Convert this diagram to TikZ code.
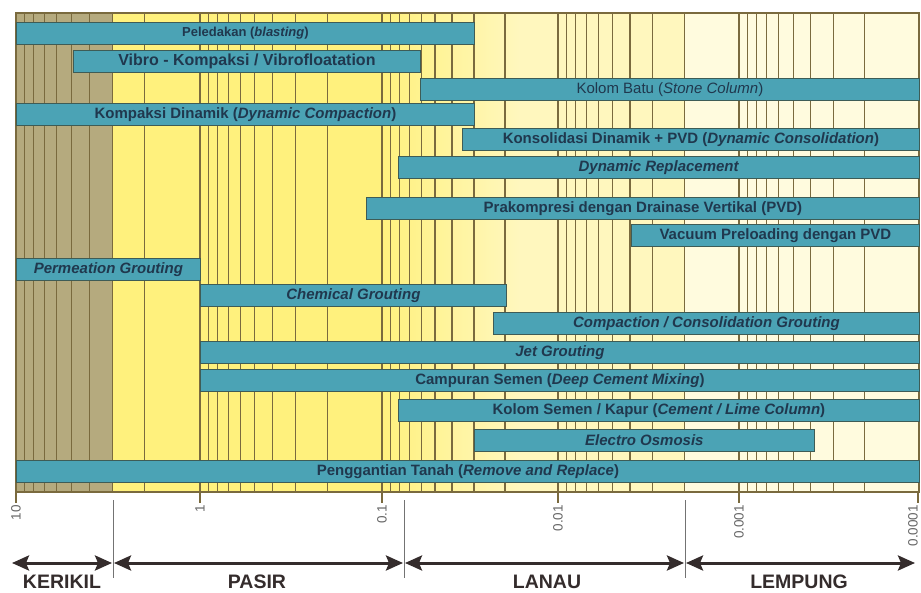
\documentclass[tikz,border=0pt]{standalone}
\usepackage{fontspec}
\setmainfont{Liberation Sans}
\usetikzlibrary{arrows.meta}
\definecolor{gravelfill}{RGB}{181,170,126}
\definecolor{sandfill}{RGB}{255,241,125}
\definecolor{siltfill}{RGB}{255,247,190}
\definecolor{clayfill}{RGB}{255,251,222}
\definecolor{gridbrown}{RGB}{122,106,62}
\definecolor{barfill}{RGB}{75,163,181}
\definecolor{barline}{RGB}{62,92,86}
\definecolor{bartext}{RGB}{32,56,78}
\definecolor{spanline}{RGB}{52,44,44}
\tikzset{
  logline/.style={draw=gridbrown, line width=1.1pt},
  bar/.style={draw=barline, fill=barfill, line width=0.8pt, minimum height=22pt,
    inner sep=0pt, anchor=north west, text=bartext,
    font=\bfseries\fontsize{15}{18}\selectfont},
  ticklabel/.style={rotate=90, anchor=east, inner sep=0pt, text=black!60,
    font=\fontsize{13.5}{16}\selectfont},
  divider/.style={draw=black!55, line width=0.8pt},
  span/.style={draw=spanline, line width=3pt,
    {Stealth[length=17pt,width=15pt,inset=3pt]}-{Stealth[length=17pt,width=15pt,inset=3pt]},
    shorten <=1pt, shorten >=1pt},
  soil/.style={anchor=base, inner sep=0pt, text=spanline,
    font=\bfseries\fontsize{19.5}{22}\selectfont},
}

\begin{document}
\begin{tikzpicture}[x=1pt, y=-1pt]
\useasboundingbox (0,0) rectangle (921,593);

% soil zones
\fill[gravelfill] (16,13) rectangle (113,492);
\fill[sandfill] (113,13) rectangle (381,492);
\shade[left color=sandfill, right color=siltfill] (380,13) rectangle (520,492);
\fill[siltfill] (519,13) rectangle (685,492);
\fill[clayfill] (685,13) rectangle (919,492);

% log grid
\foreach \a/\b in {16/200, 200/382, 382/558, 558/739, 739/919} {
  \draw[logline] (\a,13) -- ++(0,479);
  \foreach \n in {2,...,9}
    \draw[logline] ({\a+(\b-\a)*(1-log10(\n))},13) -- ++(0,479);
}
\draw[logline] (16,13) rectangle (919,492);

% methods
\node[bar, minimum width=458pt] (blast) at (16,22)
  {\fontsize{13}{16}\selectfont Peledakan (\textit{blasting})};
\node[bar, minimum width=347pt] (vibro) at (73,50)
  {\fontsize{16}{18}\selectfont Vibro - Kompaksi / Vibrofloatation};
\node[bar, minimum width=499pt] (stone) at (420,78)
  {\mdseries Kolom Batu (\textit{Stone Column})};
\node[bar, minimum width=458pt] (dyncomp) at (16,103)
  {Kompaksi Dinamik (\textit{Dynamic Compaction})};
\node[bar, minimum width=457pt] (dyncons) at (462,128)
  {Konsolidasi Dinamik + PVD (\textit{Dynamic Consolidation})};
\node[bar, minimum width=521pt] (dynrep) at (398,156)
  {\textit{Dynamic Replacement}};
\node[bar, minimum width=553pt] (pvd) at (366,197)
  {Prakompresi dengan Drainase Vertikal (PVD)};
\node[bar, minimum width=288pt] (vacuum) at (631,224)
  {Vacuum Preloading dengan PVD};
\node[bar, minimum width=184pt] (permeation) at (16,258)
  {\textit{Permeation Grouting}};
\node[bar, minimum width=306pt] (chemical) at (200,284)
  {\textit{Chemical Grouting}};
\node[bar, minimum width=426pt] (compaction) at (493,312)
  {\textit{Compaction / Consolidation Grouting}};
\node[bar, minimum width=719pt] (jet) at (200,341)
  {\textit{Jet Grouting}};
\node[bar, minimum width=719pt] (dcm) at (200,369)
  {Campuran Semen (\textit{Deep Cement Mixing})};
\node[bar, minimum width=521pt] (lime) at (398,399)
  {Kolom Semen / Kapur (\textit{Cement / Lime Column})};
\node[bar, minimum width=340pt] (electro) at (474,429)
  {\textit{Electro Osmosis}};
\node[bar, minimum width=903pt] (replace) at (16,460)
  {Penggantian Tanah (\textit{Remove and Replace})};

% axis
\foreach \x/\lab [count=\i] in {16/10, 200/1, 382/0.1, 558/0.01, 739/0.001, 918/0.0001} {
  \draw[logline] (\x,492) -- ++(0,11);
}
\foreach \x/\lab [count=\i] in {16/10, 200/1, 382/0.1, 558/0.01, 739/0.001, 913/0.0001}
  \node[ticklabel] (tick\i) at (\x,505) {\lab};

% zone limits
\foreach \x in {113, 404, 685}
  \draw[divider] (\x,500) -- ++(0,78);
\coordinate (z0) at (11,563);
\coordinate (z1) at (113,563);
\coordinate (z2) at (404,563);
\coordinate (z3) at (685,563);
\coordinate (z4) at (916,563);
\draw[span] (z0) -- (z1);
\draw[span] (z1) -- (z2);
\draw[span] (z2) -- (z3);
\draw[span] (z3) -- (z4);

\node[soil] (kerikil) at (62,588) {KERIKIL};
\node[soil] (pasir) at (257,588) {PASIR};
\node[soil] (lanau) at (547,588) {LANAU};
\node[soil] (lempung) at (799,588) {LEMPUNG};

\end{tikzpicture}
\end{document}
